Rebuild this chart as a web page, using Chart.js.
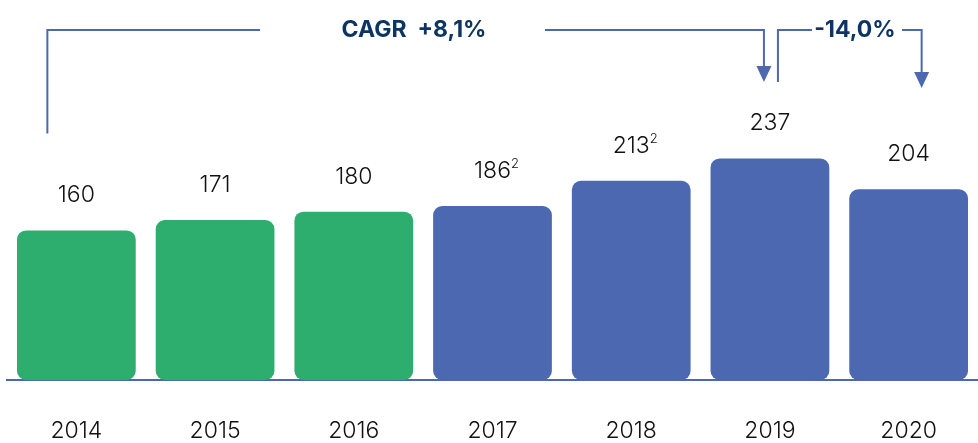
<!DOCTYPE html>
<html>
<head>
<meta charset="utf-8">
<script src="https://cdn.jsdelivr.net/npm/chart.js@4.4.1/dist/chart.umd.min.js"></script>
<style>
  html, body { margin: 0; padding: 0; background: #fff; }
  #wrap { width: 978px; height: 443px; position: relative; }
</style>
</head>
<body>
<div id="wrap"><canvas id="barChart"></canvas></div>
<script>
// data
const years = ['2014', '2015', '2016', '2017', '2018', '2019', '2020'];
const values = [160, 171, 180, 186, 213, 237, 204];
const footnotes = ['', '', '', '2', '2', '', ''];
const barColors = ['#2eae6e', '#2eae6e', '#2eae6e', '#4b68b0', '#4b68b0', '#4b68b0', '#4b68b0'];
const cagrText = 'CAGR  +8,1%';
const changeText = '-14,0%';

const LINE = '#4b68b0';
const NAVY = '#0c3563';
const FONT = 'Inter, "Noto Sans", sans-serif';

const labelsPlugin = {
    id: 'valueLabels',
    afterDatasetsDraw(chart) {
        const ctx = chart.ctx;
        const meta = chart.getDatasetMeta(0);
        ctx.save();
        ctx.fillStyle = '#111';
        ctx.textBaseline = 'middle';
        meta.data.forEach((bar, i) => {
            const txt = String(values[i]);
            ctx.font = '300 23px ' + FONT;
            const w = ctx.measureText(txt).width;
            const y = bar.y - 35;
            ctx.textAlign = 'center';
            ctx.fillText(txt, bar.x, y);
            if (footnotes[i]) {
                ctx.font = '300 13px ' + FONT;
                ctx.textAlign = 'left';
                ctx.fillText(footnotes[i], bar.x + w / 2, y - 7);
            }
        });
        ctx.restore();
    }
};

function arrowDown(ctx, x, y) {
    ctx.beginPath();
    ctx.moveTo(x - 7.5, y - 16);
    ctx.lineTo(x + 7.5, y - 16);
    ctx.lineTo(x, y);
    ctx.closePath();
    ctx.fill();
}

const bracketPlugin = {
    id: 'brackets',
    afterDraw(chart) {
        const ctx = chart.ctx;
        const xs = chart.scales.x;
        const ys = chart.scales.y;
        const top = 30;
        const x0 = xs.getPixelForValue(0) - 29;
        const x5 = xs.getPixelForValue(5) - 6;
        const x5b = xs.getPixelForValue(5) + 8;
        const x6 = xs.getPixelForValue(6) + 13;
        const y0 = ys.getPixelForValue(values[0]) - 97;
        ctx.save();
        ctx.strokeStyle = LINE;
        ctx.fillStyle = LINE;
        ctx.lineWidth = 2;

        // CAGR bracket
        ctx.font = 'bold 23px ' + FONT;
        const cx = 414;
        ctx.beginPath();
        ctx.moveTo(x0, y0);
        ctx.lineTo(x0, top);
        ctx.lineTo(260, top);
        ctx.moveTo(545, top);
        ctx.lineTo(x5, top);
        ctx.lineTo(x5, top + 38);
        ctx.stroke();
        arrowDown(ctx, x5, top + 52);

        // 2019 -> 2020 bracket
        const tx = 855;
        ctx.beginPath();
        ctx.moveTo(x5b, top + 52);
        ctx.lineTo(x5b, top);
        ctx.lineTo(812, top);
        ctx.moveTo(902, top);
        ctx.lineTo(x6, top);
        ctx.lineTo(x6, top + 44);
        ctx.stroke();
        arrowDown(ctx, x6, top + 58);

        ctx.fillStyle = NAVY;
        ctx.textAlign = 'center';
        ctx.textBaseline = 'middle';
        ctx.fillText(cagrText, cx, top);
        ctx.fillText(changeText, tx, top);
        ctx.restore();
    }
};

const ctx = document.getElementById('barChart').getContext('2d');
new Chart(ctx, {
    type: 'bar',
    data: {
        labels: years,
        datasets: [{
            data: values,
            backgroundColor: barColors,
            borderRadius: 9,
            borderSkipped: false,
            categoryPercentage: 1,
            barPercentage: 0.856
        }]
    },
    options: {
        responsive: true,
        maintainAspectRatio: false,
        animation: false,
        layout: { padding: { top: 6, left: 7, right: 0, bottom: 0 } },
        plugins: {
            legend: { display: false },
            tooltip: { enabled: false }
        },
        scales: {
            y: { display: false, min: 0, max: 400 },
            x: {
                grid: { display: false, drawTicks: false },
                border: { display: true, color: LINE, width: 2 },
                ticks: {
                    color: '#111',
                    padding: 40,
                    font: { family: FONT, size: 23, weight: 300, lineHeight: 1 }
                },
                afterFit(scale) { scale.height = 63; }
            }
        }
    },
    plugins: [labelsPlugin, bracketPlugin]
});
</script>
</body>
</html>
